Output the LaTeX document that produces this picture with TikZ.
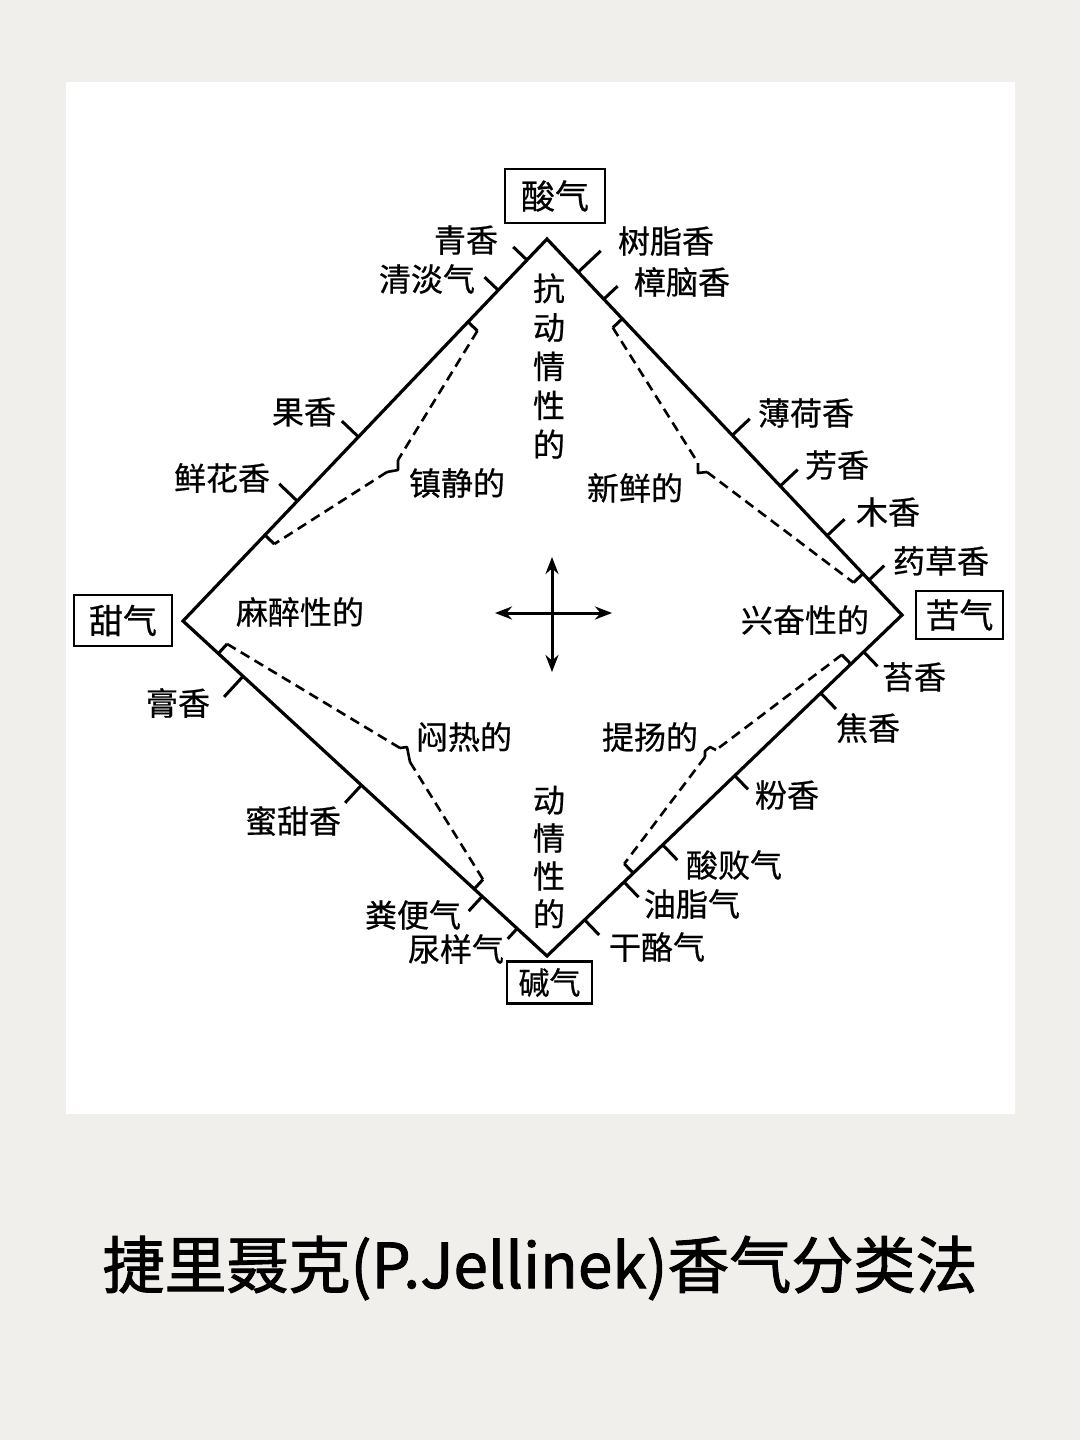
\documentclass[tikz,border=0pt]{standalone}
\usepackage{fontspec}
\setmainfont{Noto Sans CJK SC}[FakeBold=0.6]
\newfontfamily\titlefont{Noto Sans CJK SC}[FakeBold=1.5]
\usetikzlibrary{arrows.meta, calc, positioning}
\definecolor{paper}{HTML}{F1EFEC}

\tikzset{
    rim/.style={line width=3.2pt, line join=miter},
    tick/.style={line width=3pt},
    dashline/.style={line width=2.6pt, dash pattern=on 10pt off 6pt},
    hook/.style={line width=2.6pt, line join=round},
    smell/.style={font=\fontsize{32}{36}\selectfont, inner sep=0pt},
    mood/.style={font=\fontsize{32}{39}\selectfont, inner sep=0pt, align=center},
    corner/.style={draw, line width=2.8pt, inner sep=0pt, font=\fontsize{34}{38}\selectfont},
    axis/.style={line width=3pt, {Stealth[length=17pt,width=13pt]}-{Stealth[length=17pt,width=13pt]}}
}

\begin{document}
\begin{tikzpicture}[x=1pt, y=-1pt]
    \useasboundingbox (0,0) rectangle (1080,1440);
    \fill[paper] (0,0) rectangle (1080,1440);
    \fill[white] (66,82) rectangle (1015,1114);

    % corners of the square
    \coordinate (T) at (547,239);
    \coordinate (L) at (183,621);
    \coordinate (B) at (547,956);
    \coordinate (R) at (902,615);
    \draw[rim] (T) -- (R) -- (B) -- (L) -- cycle;

    % the four boxes
    \node[corner, minimum width=100pt, minimum height=54pt] (acid)   at (555,196)   {酸气};
    \node[corner, minimum width=98pt,  minimum height=51pt] (sweet)  at (123,620.5) {甜气};
    \node[corner, minimum width=87pt,  minimum height=48pt] (bitter) at (959.5,615) {苦气};
    \node[corner, minimum width=85pt,  minimum height=42pt,
          font=\fontsize{31}{36}\selectfont]                (alkali) at (549.5,982.5) {碱气};

    % ticks on the outside
    \foreach \t/\len [count=\i] in {.945/19, .866/19, .482/23, .314/25}
        \draw[tick] ($(L)!\t!(T)$) coordinate (nw\i) -- ($(L)!\t!(T)!\len pt!90:(T)$);
    \foreach \t/\len [count=\i] in {.088/31, .16/19, .522/24, .657/24, .789/24, .907/21}
        \draw[tick] ($(T)!\t!(R)$) coordinate (ne\i) -- ($(T)!\t!(R)!\len pt!90:(R)$);
    \foreach \t/\len [count=\i] in {.108/20, .229/22, .471/19, .674/21, .783/21, .894/21}
        \draw[tick] ($(R)!\t!(B)$) coordinate (se\i) -- ($(R)!\t!(B)!\len pt!90:(B)$);
    \foreach \t/\len [count=\i] in {.835/28, .51/24, .178/20, .082/14}
        \draw[tick] ($(B)!\t!(L)$) coordinate (sw\i) -- ($(B)!\t!(L)!\len pt!90:(L)$);

    % upper left side
    \node[smell] (green)   at (466,240) {青香};
    \node[smell] (light)   at (427,279) {清淡气};
    \node[smell] (fruit)   at (304,412) {果香};
    \node[smell] (flower)  at (222,478) {鲜花香};
    % upper right side
    \node[smell] (resin)   at (666,241) {树脂香};
    \node[smell] (camphor) at (682,282) {樟脑香};
    \node[smell] (mint)    at (806,413) {薄荷香};
    \node[smell] (aroma)   at (837,465) {芳香};
    \node[smell] (wood)    at (888,512) {木香};
    \node[smell] (herb)    at (941,561) {药草香};
    % lower right side
    \node[smell] (moss)    at (914,677) {苔香};
    \node[smell] (burnt)   at (868,728) {焦香};
    \node[smell] (powder)  at (787,795) {粉香};
    \node[smell] (rancid)  at (734,865) {酸败气};
    \node[smell] (fat)     at (692,904) {油脂气};
    \node[smell] (cheese)  at (657,947) {干酪气};
    % lower left side
    \node[smell] (balsam)  at (178,703) {膏香};
    \node[smell] (honey)   at (293,821) {蜜甜香};
    \node[smell] (faeces)  at (413,915) {粪便气};
    \node[smell] (urine)   at (456,949) {尿样气};

    % inner words
    \node[mood] (antisex) at (549,366) {抗\\动\\情\\性\\的};
    \node[mood, font=\fontsize{32}{38}\selectfont] (sex) at (549,857) {动\\情\\性\\的};
    \node[smell] (calm)    at (457,483) {镇静的};
    \node[smell] (fresh)   at (635,488) {新鲜的};
    \node[smell] (narcotic) at (300,612) {麻醉性的};
    \node[smell] (excite)  at (805,620) {兴奋性的};
    \node[smell] (sultry)  at (464,737) {闷热的};
    \node[smell] (lift)    at (650,737) {提扬的};

    % dashed brackets
    \draw[tick] ($(L)!.783!(T)$) coordinate (ca) -- ($(L)!.783!(T)!13pt!-90:(T)$) coordinate (cb);
    \draw[tick] ($(L)!.225!(T)$) coordinate (cc) -- ($(L)!.225!(T)!13pt!-90:(T)$) coordinate (cd);
    \coordinate (ctip1) at (398,460);
    \coordinate (ctip2) at (387,472);
    \draw[dashline] (cb) -- (ctip1);
    \draw[hook] (ctip1) -- (398,470) -- (ctip2);
    \draw[dashline] (ctip2) -- (cd);

    \draw[tick] ($(T)!.212!(R)$) coordinate (fa) -- ($(T)!.212!(R)!13pt!90:(T)$) coordinate (fb);
    \draw[tick] ($(T)!.89!(R)$) coordinate (fc) -- ($(T)!.89!(R)!13pt!90:(T)$) coordinate (fd);
    \coordinate (ftip1) at (698,463);
    \coordinate (ftip2) at (707,472);
    \draw[dashline] (fb) -- (ftip1);
    \draw[hook] (ftip1) -- (698,473) -- (ftip2);
    \draw[dashline] (ftip2) -- (fd);

    \draw[tick] ($(R)!.144!(B)$) coordinate (la) -- ($(R)!.144!(B)!13pt!90:(R)$) coordinate (lb);
    \draw[tick] ($(R)!.757!(B)$) coordinate (lc) -- ($(R)!.757!(B)!13pt!90:(R)$) coordinate (ld);
    \coordinate (ltip1) at (716,750);
    \coordinate (ltip2) at (705,757);
    \draw[dashline] (lb) -- (ltip1);
    \draw[hook] (ltip1) -- (710,747) -- (705,751) -- (ltip2);
    \draw[dashline] (ltip2) -- (ld);

    \draw[tick] ($(B)!.903!(L)$) coordinate (sa) -- ($(B)!.903!(L)!13pt!90:(B)$) coordinate (sb);
    \draw[tick] ($(B)!.2!(L)$) coordinate (sc) -- ($(B)!.2!(L)!13pt!90:(B)$) coordinate (sd);
    \coordinate (stip1) at (400,748);
    \coordinate (stip2) at (410,762);
    \draw[dashline] (sb) -- (stip1);
    \draw[hook] (stip1) -- (407,747) -- (stip2);
    \draw[dashline] (stip2) -- (sd);

    % cross in the middle
    \coordinate (xw) at (495,613);
    \coordinate (xe) at (612,613);
    \coordinate (xn) at (552,557);
    \coordinate (xs) at (552,672);
    \draw[axis] (xw) -- (xe);
    \draw[axis] (xn) -- (xs);

    \node[font=\titlefont\fontsize{62}{66}\selectfont, inner sep=0pt] (title) at (540,1268)
        {捷里聂克(P.Jellinek)香气分类法};
\end{tikzpicture}
\end{document}
